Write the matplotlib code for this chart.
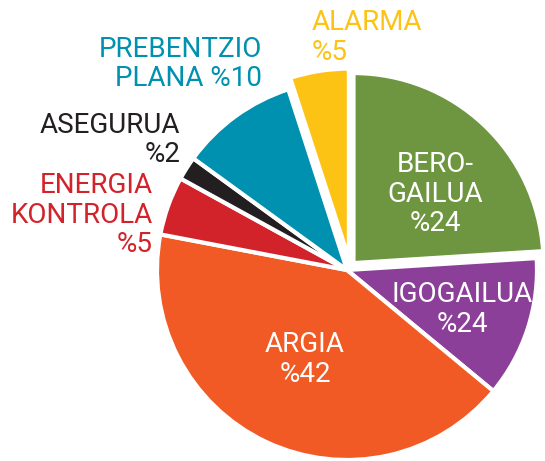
import matplotlib
matplotlib.use('Agg')
import matplotlib.pyplot as plt

# slices, clockwise from 12 o'clock
labels = ['BERO-GAILUA', 'IGOGAILUA', 'ARGIA', 'ENERGIA KONTROLA', 'ASEGURUA', 'PREBENTZIO PLANA', 'ALARMA']
values = [24, 12, 42, 5, 2, 10, 5]
colors = ['#6E9640', '#8B3F98', '#F15A24', '#D2232A', '#231F20', '#0090B0', '#FDC314']
explode = [0.05, 0, 0, 0, 0, 0, 0]

W, H = 545, 461
cx, cy, r = 347, 270, 190   # pie centre and radius in pixels

plt.rcParams['font.family'] = ['Roboto', 'DejaVu Sans']

fig = plt.figure(figsize=(W / 100, H / 100), dpi=100)
ax = fig.add_axes([0, 0, 1, 1])
wedges, _ = ax.pie(values, colors=colors, explode=explode, startangle=90, counterclock=False,
                   wedgeprops=dict(edgecolor='white', linewidth=3))
# alarma slice is pulled straight up in the original
wedges[6].set_center((0.01, 0.06))
ax.set_xlim(-cx / r, (W - cx) / r)
ax.set_ylim(-(H - cy) / r, cy / r)
ax.set_aspect('equal')
ax.axis('off')


def label(x, y, lines, color, ha):
    # x, y: pixel position of the first baseline
    for i, s in enumerate(lines):
        fig.text(x / W, 1 - (y + i * 29.5) / H, s, color=color, ha=ha, va='baseline', fontsize=20)


label(312, 30, ['ALARMA', '%5'], '#FDC314', 'left')
label(262, 57, ['PREBENTZIO', 'PLANA %10'], '#0090B0', 'right')
label(180, 133, ['ASEGURUA', '%2'], '#231F20', 'right')
label(153, 193, ['ENERGIA', 'KONTROLA', '%5'], '#D2232A', 'right')
label(435, 172, ['BERO-', 'GAILUA', '%24'], 'white', 'center')
label(462, 302, ['IGOGAILUA', '%24'], 'white', 'center')
label(305, 352, ['ARGIA', '%42'], 'white', 'center')

fig.savefig('out.png', dpi=100)
